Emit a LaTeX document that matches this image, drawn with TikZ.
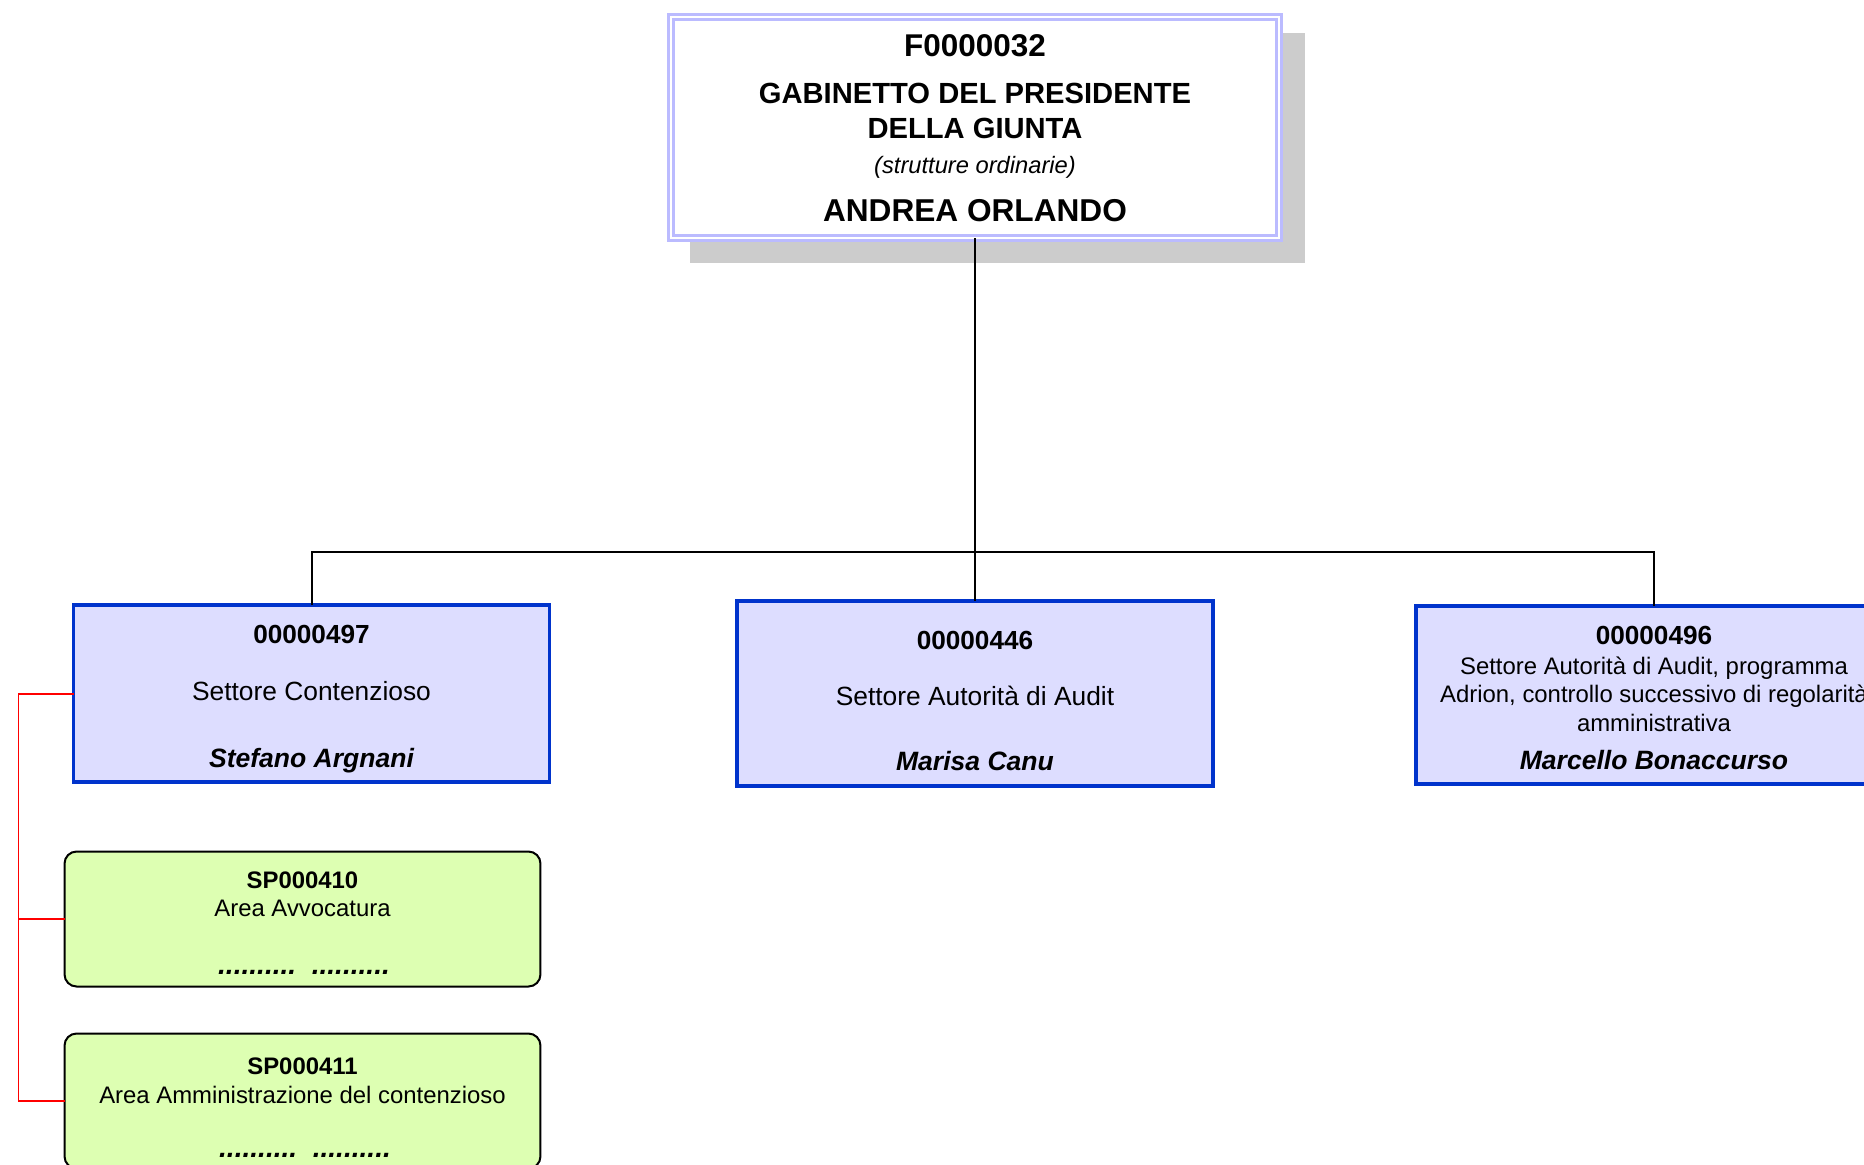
\documentclass[tikz,border=0pt]{standalone}
\usepackage{fontspec}
\setmainfont{Liberation Sans}
\usepackage{xcolor}
\definecolor{gabblue}{RGB}{187,187,255}
\definecolor{ombra}{RGB}{204,204,204}
\definecolor{settfill}{RGB}{221,221,255}
\definecolor{settblue}{RGB}{0,51,204}
\definecolor{areafill}{RGB}{221,255,178}

\begin{document}
\begin{tikzpicture}[x=0.02cm, y=-0.02cm,
	gabbox/.style={draw=gabblue, double=white, double distance=0.04cm, line width=0.06cm, fill=white, minimum width=12.18cm, minimum height=4.44cm, inner sep=0pt, outer sep=0pt},
	settbox/.style={draw=settblue, fill=settfill, line width=0.065cm, minimum width=9.52cm, inner sep=0pt, outer sep=0pt},
	areabox/.style={draw=black, fill=areafill, line width=0.04cm, rounded corners=0.24cm, minimum width=9.52cm, minimum height=2.7cm, inner sep=0pt, outer sep=0pt},
	txt/.style={anchor=base, inner sep=0pt},
	conn/.style={line width=0.04cm, black},
	subconn/.style={line width=0.04cm, red}]
	\useasboundingbox (0,0) rectangle (1864,1164);
	
	\fill[ombra] (690,33) rectangle (1305,263);
	\node[gabbox] (gab) at (975,127.5) {};
	\node[txt, font=\bfseries\fontsize{17.9}{21}\selectfont] (gabcode) at (975,56) {F0000032};
	\node[txt, font=\bfseries\fontsize{16.6}{20}\selectfont] (gabname1) at (975,103.5) {GABINETTO DEL PRESIDENTE};
	\node[txt, font=\bfseries\fontsize{16.6}{20}\selectfont] (gabname2) at (975,138.5) {DELLA GIUNTA};
	\node[txt, font=\itshape\fontsize{13.5}{16}\selectfont] (gabnote) at (975,173) {(strutture ordinarie)};
	\node[txt, font=\bfseries\fontsize{18}{21}\selectfont] (gabhead) at (975,221.5) {ANDREA ORLANDO};
	
	\node[settbox, minimum height=3.54cm] (sett1) at (311.5,693.5) {};
	\node[settbox, minimum height=3.7cm] (sett2) at (975,693.5) {};
	\node[settbox, minimum height=3.56cm] (sett3) at (1654,695) {};
	
	\node[txt, font=\bfseries\fontsize{14.9}{18}\selectfont] (code1) at (311.5,643.5) {00000497};
	\node[txt, font=\fontsize{15}{18}\selectfont] (desc1) at (311.5,700.5) {Settore Contenzioso};
	\node[txt, font=\bfseries\itshape\fontsize{15.1}{18}\selectfont] (head1) at (311.5,767) {Stefano Argnani};
	
	\node[txt, font=\bfseries\fontsize{14.9}{18}\selectfont] (code2) at (975,649.5) {00000446};
	\node[txt, font=\fontsize{15}{18}\selectfont] (desc2) at (975,705.5) {Settore Autorità di Audit};
	\node[txt, font=\bfseries\itshape\fontsize{15.1}{18}\selectfont] (head2) at (975,770) {Marisa Canu};
	
	\node[txt, font=\bfseries\fontsize{14.9}{18}\selectfont] (code3) at (1654,644.5) {00000496};
	\node[txt, font=\fontsize{13.6}{16}\selectfont] (desc3a) at (1654,674) {Settore Autorità di Audit, programma};
	\node[txt, font=\fontsize{13.6}{16}\selectfont] (desc3b) at (1654,702) {Adrion, controllo successivo di regolarità};
	\node[txt, font=\fontsize{13.6}{16}\selectfont] (desc3c) at (1654,731) {amministrativa};
	\node[txt, font=\bfseries\itshape\fontsize{15.1}{18}\selectfont] (head3) at (1654,769) {Marcello Bonaccurso};
	
	\node[areabox] (area1) at (302.5,919) {};
	\node[areabox] (area2) at (302.5,1101) {};
	
	\node[txt, font=\bfseries\fontsize{13.6}{16}\selectfont] (acode1) at (302.5,888.5) {SP000410};
	\node[txt, font=\fontsize{13.6}{16}\selectfont] (adesc1) at (302.5,916) {Area Avvocatura};
	\node[txt, font=\bfseries\itshape\fontsize{16}{18}\selectfont] (ahead1) at (304,974) {.......... \hspace{0.18em}..........};
	
	\node[txt, font=\bfseries\fontsize{13.6}{16}\selectfont] (acode2) at (302.5,1074.5) {SP000411};
	\node[txt, font=\fontsize{13.6}{16}\selectfont] (adesc2) at (302.5,1103) {Area Amministrazione del contenzioso};
	\node[txt, font=\bfseries\itshape\fontsize{16}{18}\selectfont] (ahead2) at (305,1157) {.......... \hspace{0.18em}..........};
	
	\coordinate (bus) at (975,552);
	\coordinate (redbus) at (18.5,0);
	\draw[conn] (gab.south) -- (sett2.north);
	\draw[conn] (sett1.north) |- (bus) -| (sett3.north);
	\draw[subconn] (sett1.west) -- (sett1.west -| redbus) |- (area2.west);
	\draw[subconn] (area1.west -| redbus) -- (area1.west);
	
\end{tikzpicture}
\end{document}
